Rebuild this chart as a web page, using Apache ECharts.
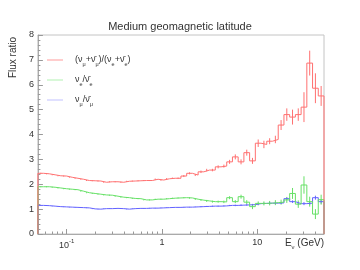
<!DOCTYPE html>
<html><head><meta charset="utf-8">
<script src="https://cdn.jsdelivr.net/npm/echarts@6/dist/echarts.min.js"></script>
<style>html,body{margin:0;padding:0;background:#fff}#c{width:360px;height:270px}</style>
</head><body><div id="c"></div>
<script>
// Bin edges (GeV), 50 logarithmic bins from 0.05 to 50
const binEdges = [0.05,0.0574,0.0659,0.0757,0.0869,0.0998,0.1145,0.1315,0.1510,0.1734,
  0.1991,0.2285,0.2624,0.3013,0.3459,0.3972,0.4560,0.5236,0.6011,0.6902,
  0.7924,0.9099,1.0447,1.1994,1.3771,1.5811,1.8154,2.0843,2.3932,2.7477,
  3.1548,3.6222,4.1588,4.7750,5.4824,6.2946,7.2272,8.2980,9.5273,10.939,
  12.559,14.420,16.557,19.009,21.826,25.059,28.772,33.035,37.929,43.548,50];
// (nu_mu + nubar_mu)/(nu_e + nubar_e)
const redVals = [2.44,2.42,2.38,2.34,2.33,2.28,2.24,2.20,2.15,2.14,
  2.13,2.08,2.10,2.10,2.08,2.12,2.13,2.14,2.15,2.15,
  2.20,2.17,2.22,2.24,2.24,2.33,2.44,2.37,2.50,2.57,
  2.57,2.70,2.73,2.90,3.10,2.90,3.27,2.94,3.65,3.60,
  3.73,3.80,4.38,4.80,4.70,4.80,5.10,6.87,5.86,5.55];
const redErr = [0.02,0.02,0.02,0.02,0.02,0.02,0.02,0.02,0.02,0.02,
  0.02,0.02,0.02,0.02,0.02,0.02,0.02,0.02,0.02,0.02,
  0.03,0.03,0.03,0.03,0.03,0.04,0.04,0.04,0.05,0.05,
  0.05,0.06,0.06,0.08,0.10,0.10,0.12,0.12,0.15,0.15,
  0.12,0.15,0.20,0.25,0.30,0.25,0.60,0.50,0.60,0.40];
// nu_e / nubar_e
const greenVals = [1.90,1.90,1.88,1.85,1.82,1.80,1.78,1.72,1.66,1.63,
  1.60,1.57,1.56,1.52,1.48,1.46,1.43,1.42,1.37,1.37,
  1.40,1.40,1.42,1.44,1.45,1.46,1.45,1.40,1.36,1.33,
  1.30,1.30,1.29,1.46,1.30,1.50,1.28,1.10,1.23,1.23,
  1.24,1.26,1.28,1.37,1.63,1.20,1.97,1.30,0.80,1.38];
const greenErr = [0.02,0.02,0.02,0.02,0.02,0.02,0.02,0.02,0.02,0.02,
  0.02,0.02,0.02,0.02,0.02,0.02,0.02,0.02,0.02,0.02,
  0.02,0.02,0.02,0.02,0.02,0.02,0.03,0.03,0.03,0.04,
  0.04,0.04,0.05,0.06,0.06,0.08,0.08,0.10,0.08,0.08,
  0.09,0.10,0.10,0.12,0.22,0.15,0.35,0.20,0.20,0.20];
// nu_mu / nubar_mu
const blueVals = [1.15,1.14,1.12,1.10,1.09,1.08,1.07,1.06,1.05,1.01,
  1.00,1.02,1.02,1.03,1.02,1.00,1.02,1.03,1.03,1.04,
  1.04,1.05,1.06,1.07,1.07,1.08,1.08,1.09,1.10,1.11,
  1.12,1.12,1.13,1.15,1.15,1.16,1.17,1.18,1.22,1.23,
  1.24,1.24,1.25,1.42,1.30,1.22,1.22,1.24,1.46,1.30];
const blueErr = [0.01,0.01,0.01,0.01,0.01,0.01,0.01,0.01,0.01,0.01,
  0.01,0.01,0.01,0.01,0.01,0.01,0.01,0.01,0.01,0.01,
  0.01,0.01,0.01,0.01,0.01,0.01,0.01,0.01,0.02,0.02,
  0.02,0.02,0.02,0.02,0.03,0.03,0.03,0.03,0.03,0.03,
  0.04,0.04,0.04,0.05,0.05,0.06,0.06,0.07,0.08,0.08];
const xMajorTicks = [0.1, 1, 10];
const xMinorTicks = [0.06,0.07,0.08,0.09,0.2,0.3,0.4,0.5,0.6,0.7,0.8,0.9,2,3,4,5,6,7,8,9,20,30,40];
const titleText = 'Medium geomagnetic latitude';
const yName = 'Flux ratio';
const legendText = {
  r: '{n|(ν}{s|μ}{n|+ν\u0304}{s|μ}{n|)/(ν}{s|e}{n|+ν\u0304}{s|e}{n|)}',
  g: '{n|ν}{s|e}{n|/ν\u0304}{s|e}',
  b: '{n|ν}{s|μ}{n|/ν\u0304}{s|μ}'
};
const colors = { r: '#ff7070', g: '#66e066', b: '#6262ff' };
const legendColors = { r: '#ff9a9a', g: '#b0f0b0', b: '#c0c0ff' };

function histData(vals) {
  const d = [[binEdges[0], 0]];
  vals.forEach((v, i) => d.push([binEdges[i], v]));
  d.push([binEdges[binEdges.length - 1], vals[vals.length - 1]]);
  d.push([binEdges[binEdges.length - 1], 0]);
  return d;
}
function errData(vals, errs) {
  return vals.map((v, i) => [Math.sqrt(binEdges[i] * binEdges[i + 1]), v - errs[i], v + errs[i]]);
}
function errSeries(key, vals, errs) {
  return {
    type: 'custom', name: key + 'err', xAxisIndex: 0, yAxisIndex: 0,
    data: errData(vals, errs), encode: { x: 0, y: [1, 2] }, silent: true,
    renderItem: (params, api) => {
      const a = api.coord([api.value(0), api.value(1)]);
      const b = api.coord([api.value(0), api.value(2)]);
      return { type: 'line', shape: { x1: a[0], y1: a[1], x2: b[0], y2: b[1] },
        style: { stroke: colors[key], lineWidth: 1 } };
    }
  };
}
function histSeries(key, vals) {
  return { type: 'line', name: key, step: 'end', symbol: 'none', showSymbol: false, data: histData(vals),
    xAxisIndex: 0, yAxisIndex: 0, color: colors[key],
    itemStyle: { color: legendColors[key] },
    lineStyle: { color: colors[key], width: 1 } };
}
const FONT = 'Liberation Sans';
const chart = echarts.init(document.getElementById('c'), null, { renderer: 'canvas' });
chart.setOption({
  animation: false,
  backgroundColor: '#fff',
  title: { text: titleText, left: 'center', top: 21, padding: 0,
    textStyle: { fontFamily: FONT, fontSize: 11, fontWeight: 'normal', color: '#333' } },
  grid: { left: 36, right: 36, top: 35, bottom: 36, show: true, borderColor: '#c4c4c4', borderWidth: 1, containLabel: false },
  legend: {
    orient: 'vertical', left: 47, top: 53, padding: 0, itemWidth: 16, itemHeight: 1, itemGap: 6,
    icon: 'rect',
    data: [
      { name: 'r', itemStyle: { color: legendColors.r }, lineStyle: { color: legendColors.r } },
      { name: 'g', itemStyle: { color: legendColors.g }, lineStyle: { color: legendColors.g } },
      { name: 'b', itemStyle: { color: legendColors.b }, lineStyle: { color: legendColors.b } }
    ],
    formatter: name => legendText[name],
    textStyle: { fontFamily: FONT, color: '#333', padding: [0, 0, 0, 7], height: 14, lineHeight: 14,
      rich: {
        n: { fontFamily: FONT, fontSize: 9, lineHeight: 14, color: '#333', verticalAlign: 'middle' },
        s: { fontFamily: FONT, fontSize: 5.5, lineHeight: 6, color: '#333', verticalAlign: 'bottom' }
      } }
  },
  xAxis: [{
    type: 'log', min: binEdges[0], max: binEdges[binEdges.length - 1], logBase: 10,
    splitLine: { show: false },
    axisLine: { lineStyle: { color: '#aaa', width: 1 } },
    axisTick: { inside: true, length: 5, customValues: xMajorTicks, lineStyle: { color: '#999' } },
    axisLabel: { customValues: xMajorTicks, margin: 4, color: '#333', fontFamily: FONT, fontSize: 9,
      formatter: v => (v < 0.5 ? '{b|10}{p|-1}' : String(Math.round(v))),
      rich: { b: { fontFamily: FONT, fontSize: 9, lineHeight: 12, verticalAlign: 'bottom' },
              p: { fontFamily: FONT, fontSize: 6, lineHeight: 6, verticalAlign: 'top' } } },
    name: '{n|E}{s|ν}{n| (GeV)}', nameLocation: 'end', nameGap: 0,
    nameTextStyle: { align: 'right', verticalAlign: 'top', padding: [3, 0, 0, 0],
      rich: { n: { fontFamily: FONT, fontSize: 10, lineHeight: 13, color: '#333', verticalAlign: 'middle' },
              s: { fontFamily: FONT, fontSize: 6, lineHeight: 6, color: '#333', verticalAlign: 'bottom' } } }
  }, {
    type: 'log', min: binEdges[0], max: binEdges[binEdges.length - 1], logBase: 10,
    position: 'bottom', offset: 0, gridIndex: 0,
    splitLine: { show: false }, axisLine: { show: false }, axisLabel: { show: false },
    axisTick: { inside: true, length: 2.5, customValues: xMinorTicks, lineStyle: { color: '#999' } }
  }],
  yAxis: {
    type: 'value', min: 0, max: 8, interval: 1,
    splitLine: { show: false },
    axisLine: { show: true, lineStyle: { color: '#aaa', width: 1 } },
    axisTick: { show: true, inside: true, length: 5, lineStyle: { color: '#999' } },
    minorTick: { show: true, splitNumber: 5, length: 2.5, lineStyle: { color: '#999' } },
    axisLabel: { margin: 4, color: '#333', fontFamily: FONT, fontSize: 9 },
    name: yName, nameLocation: 'middle', nameGap: 11,
    nameTextStyle: { fontFamily: FONT, fontSize: 10, color: '#333', padding: [0, 0, 0, 154] }
  },
  series: [
    histSeries('b', blueVals), errSeries('b', blueVals, blueErr),
    histSeries('g', greenVals), errSeries('g', greenVals, greenErr),
    histSeries('r', redVals), errSeries('r', redVals, redErr)
  ]
});
</script></body></html>
